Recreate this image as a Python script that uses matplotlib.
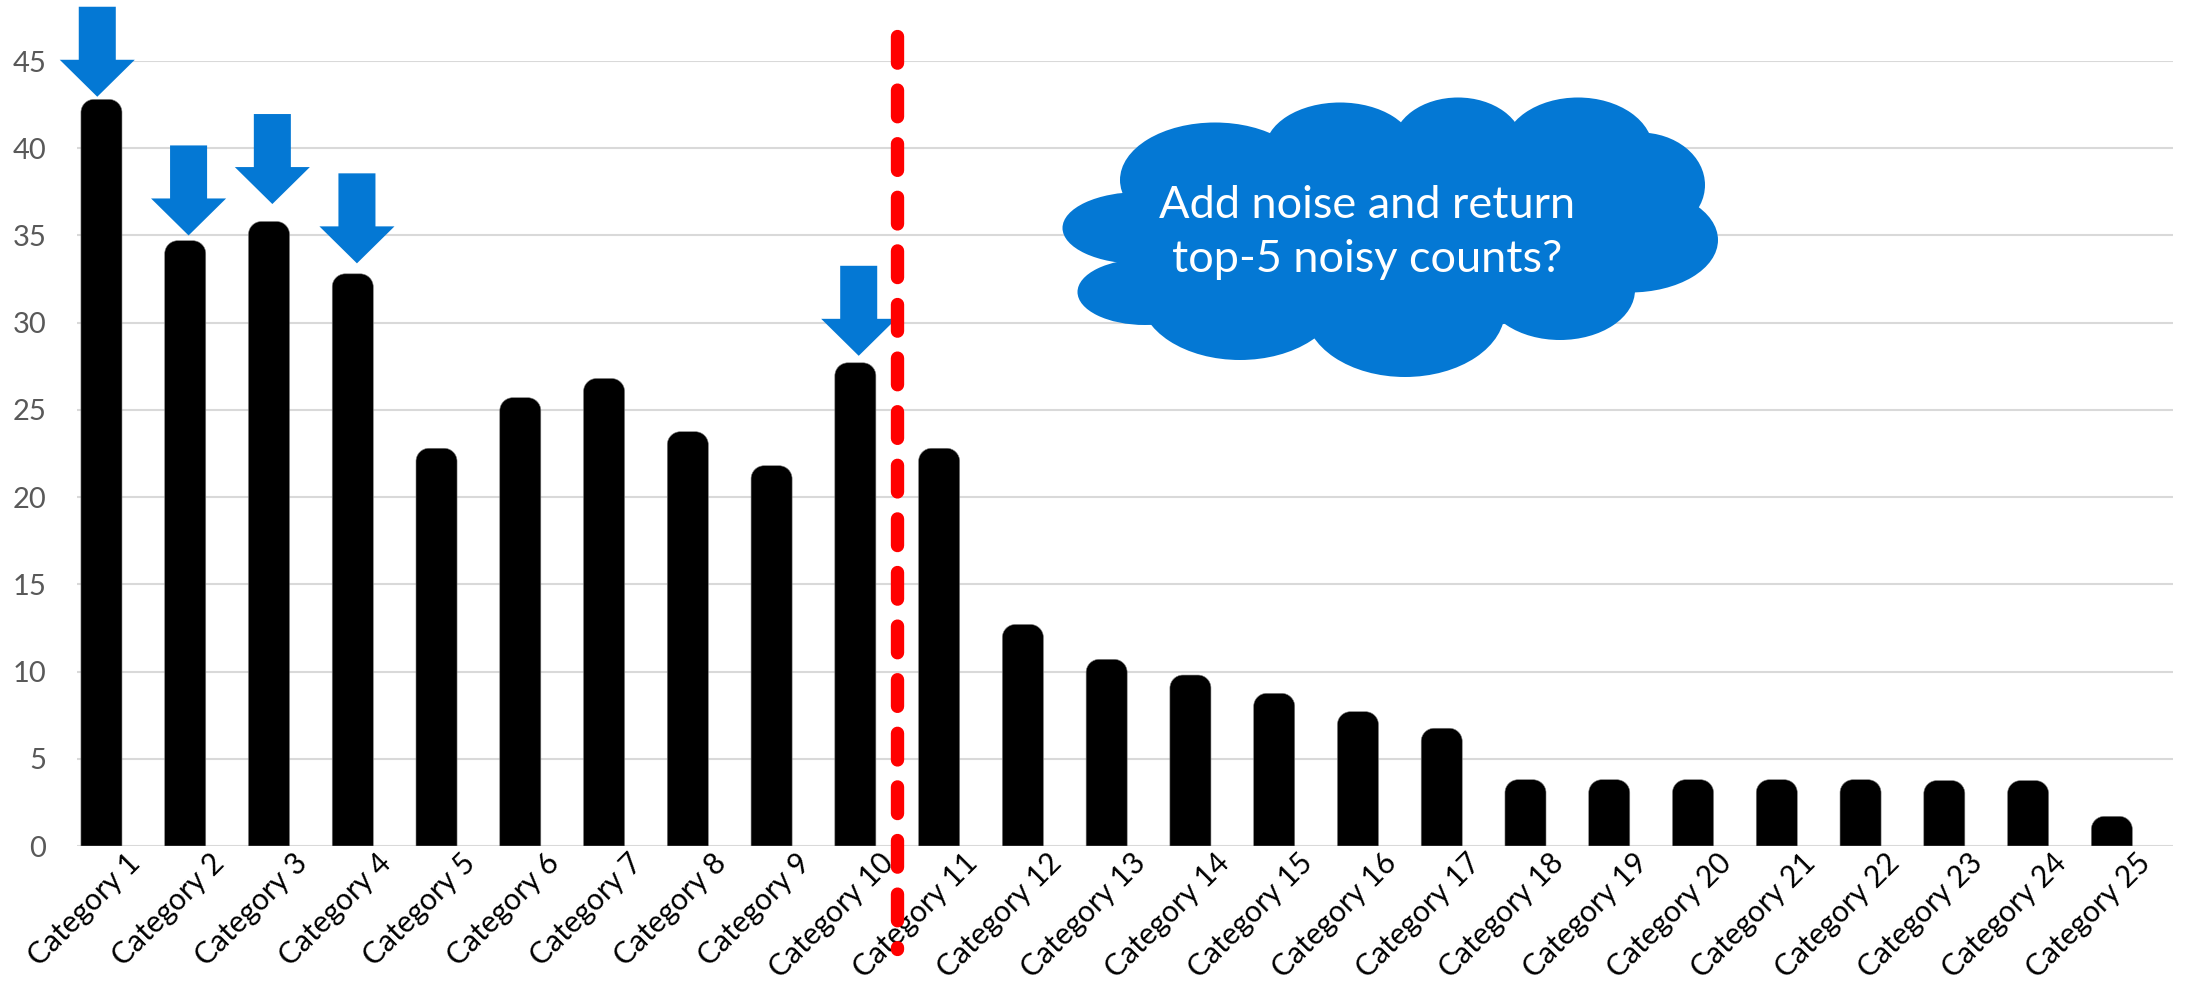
import numpy as np

import matplotlib
matplotlib.use('Agg')
from matplotlib import pyplot as plt
from matplotlib.path import Path
from matplotlib.patches import PathPatch, Polygon, Ellipse
import matplotlib.transforms as mtransforms

# Counts per category
categories = ['Category %d' % (i + 1) for i in range(25)]
counts = [42.8, 34.7, 35.8, 32.8, 22.8, 25.7, 26.8, 23.75, 21.8, 27.7,
          22.8, 12.7, 10.7, 9.8, 8.75, 7.7, 6.75, 3.8, 3.8, 3.8,
          3.8, 3.8, 3.75, 3.75, 1.7]

# Categories flagged with an arrow, and the gap between bar top and arrow tip
arrow_cats = [0, 1, 2, 3, 9]
arrow_gap = [0.15, 0.3, 1.0, 0.6, 0.4]
arrow_dx = [-0.05, 0.04, 0.04, 0.05, 0.04]

cutoff = 9.5            # split between category 10 and 11
yticks = np.arange(0, 46, 5)

cloud_text = ['Add noise and return', 'top-5 noisy counts?']

blue = '#0478D4'
font = 'Lato'

W, H = 2188, 988
fig = plt.figure(figsize=(W / 100, H / 100), dpi=100)
ax = fig.add_axes([77 / W, 142 / H, 2096 / W, 785 / H])

ax.set_xlim(-0.292, 24.73)
ax.set_ylim(0, 45)
for s in ax.spines.values():
    s.set_visible(False)

# horizontal gridlines
for yv in yticks:
    ax.axhline(yv, color='#D9D9D9', linewidth=1.5, zorder=0)


def rounded_bar(x, h, width, rx, ry):
    # bar with rounded top corners, square bottom
    k = 0.5523
    x0 = x - width / 2
    x1 = x + width / 2
    verts = [(x0, 0), (x0, h - ry),
             (x0, h - ry + k * ry), (x0 + rx - k * rx, h), (x0 + rx, h),
             (x1 - rx, h),
             (x1 - rx + k * rx, h), (x1, h - ry + k * ry), (x1, h - ry),
             (x1, 0), (x0, 0)]
    codes = [Path.MOVETO, Path.LINETO,
             Path.CURVE4, Path.CURVE4, Path.CURVE4,
             Path.LINETO,
             Path.CURVE4, Path.CURVE4, Path.CURVE4,
             Path.LINETO, Path.CLOSEPOLY]
    return Path(verts, codes)


xpos = np.arange(len(categories))
bar_w = 0.49
rx = 13 / 83.8
ry = 13 / 17.44
for xi, c in zip(xpos, counts):
    p = PathPatch(rounded_bar(xi, c, bar_w, rx, ry), facecolor='black',
                  edgecolor='#7F7F7F', linewidth=0.4, zorder=2)
    ax.add_patch(p)

# blue arrows pointing at the selected bars
shaft_hw = 0.221
head_hw = 0.448
head_len = 2.12
total_len = 5.16
for ci, gap, dx in zip(arrow_cats, arrow_gap, arrow_dx):
    xc = xpos[ci] + dx
    tip = counts[ci] + gap
    pts = [(xc, tip),
           (xc - head_hw, tip + head_len),
           (xc - shaft_hw, tip + head_len),
           (xc - shaft_hw, tip + total_len),
           (xc + shaft_hw, tip + total_len),
           (xc + shaft_hw, tip + head_len),
           (xc + head_hw, tip + head_len)]
    ax.add_patch(Polygon(pts, closed=True, facecolor=blue, edgecolor='none',
                         clip_on=False, zorder=4))

# red dashed cutoff line
ax.plot([cutoff, cutoff], [46.44, -5.93], color='#FF0000', linewidth=9.6,
        dashes=(2.0, 2.02), dash_capstyle='round', clip_on=False, zorder=5)

# y axis
ax.set_yticks(yticks)
ax.set_yticklabels([str(v) for v in yticks], fontsize=21, color='#595959',
                   family=font)
ax.tick_params(axis='y', length=0, pad=22)

# x axis labels, rotated and shifted so the text ends right of each bar
ax.set_xticks(xpos)
ax.set_xticklabels(categories, fontsize=21.5, color='black', family=font,
                   rotation=45, ha='right', va='center',
                   rotation_mode='anchor')
ax.tick_params(axis='x', length=0, pad=9)
offset = mtransforms.ScaledTranslation(0.34, 0, fig.dpi_scale_trans)
for lab in ax.get_xticklabels():
    lab.set_transform(lab.get_transform() + offset)

# cloud callout, drawn in pixel coordinates on an overlay
ov = fig.add_axes([0, 0, 1, 1], zorder=10)
ov.set_xlim(0, W)
ov.set_ylim(H, 0)
ov.axis('off')

lobes = [(1140, 228, 155, 72),
         (1145, 292, 135, 66),
         (1215, 180, 190, 115),
         (1340, 150, 150, 95),
         (1458, 145, 130, 95),
         (1578, 150, 150, 105),
         (1640, 185, 130, 105),
         (1630, 240, 176, 105),
         (1560, 290, 150, 100),
         (1405, 310, 200, 134),
         (1240, 295, 200, 130),
         (1390, 235, 500, 200)]
for cx, cy, ew, eh in lobes:
    ov.add_patch(Ellipse((cx, cy), ew, eh, facecolor=blue, edgecolor='none'))

ov.text(1367, 218, cloud_text[0], color='white', fontsize=32.5, family=font,
        ha='center', va='baseline')
ov.text(1367, 272, cloud_text[1], color='white', fontsize=32.5, family=font,
        ha='center', va='baseline')

fig.savefig('out.png', dpi=100)
